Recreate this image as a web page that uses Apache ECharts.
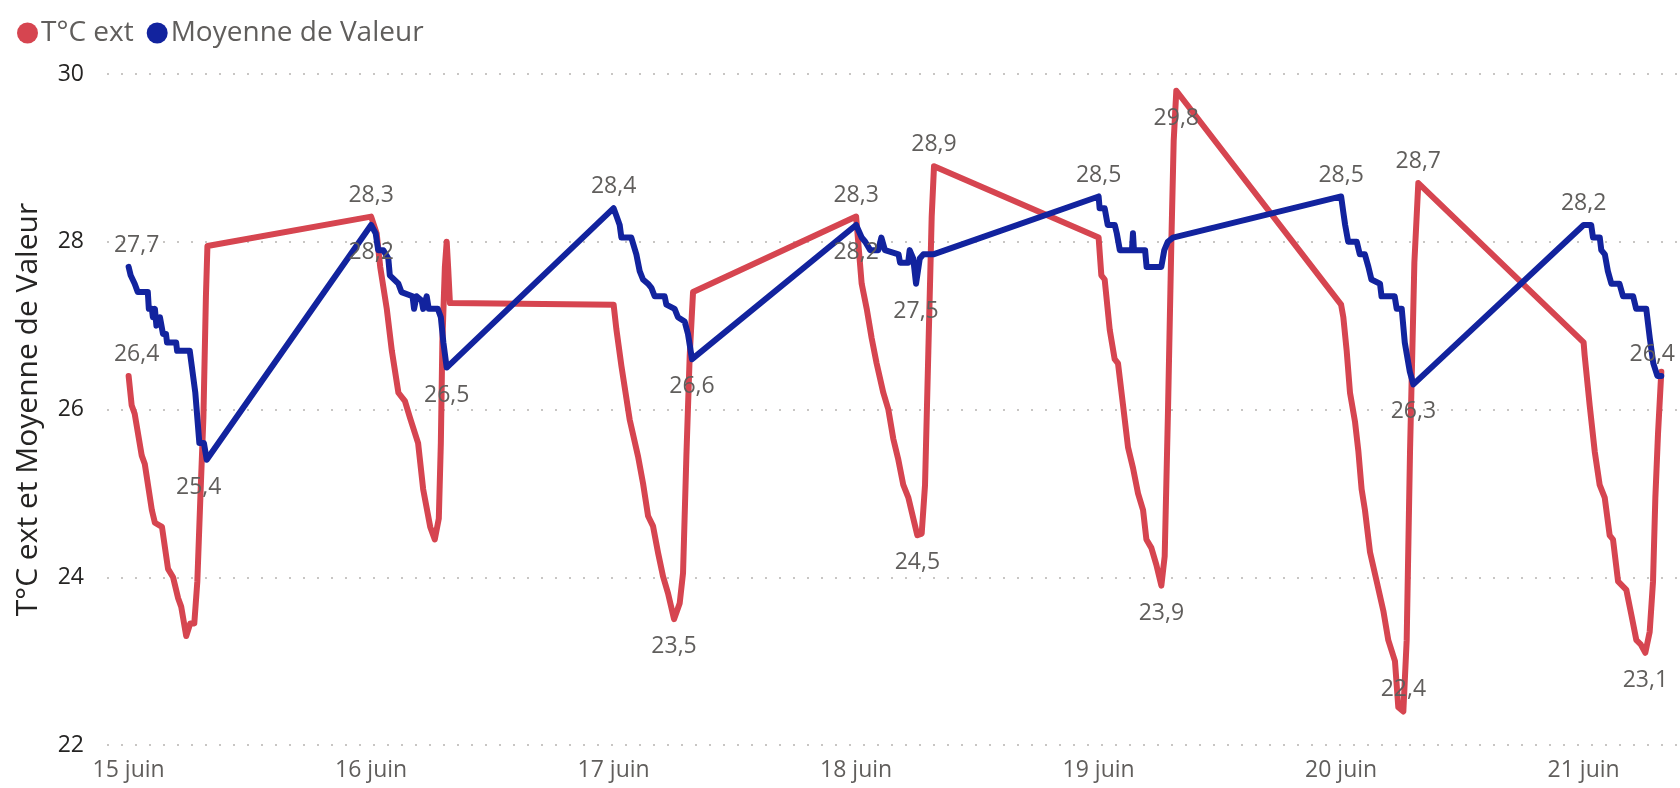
<!DOCTYPE html>
<html>
<head>
<meta charset="utf-8">
<script src="https://cdn.jsdelivr.net/npm/echarts@6/dist/echarts.min.js"></script>
<style>
  html, body { margin: 0; padding: 0; background: #fff; }
  #chart { width: 1680px; height: 788px; }
</style>
</head>
<body>
<div id="chart"></div>
<script>
// jours (juin) affichés sur l'axe
const days = [15, 16, 17, 18, 19, 20, 21];

// T°C ext : [heure de la nuit, valeur]
const red15 = [[0, 26.4], [0.3, 26.05], [0.6, 25.95], [1.3, 25.45], [1.6, 25.35], [2.3, 24.8], [2.6, 24.65], [3.3, 24.6], [3.9, 24.1], [4.4, 24.0], [4.9, 23.75], [5.2, 23.65], [5.7, 23.3], [6.1, 23.45], [6.5, 23.45], [6.8, 23.95], [7.1, 24.95], [7.4, 25.9], [7.65, 27.35], [7.8, 27.95]];
const red16 = [[0, 28.3], [0.55, 28.1], [0.9, 27.7], [1.55, 27.2], [2.05, 26.7], [2.7, 26.2], [3.35, 26.1], [3.85, 25.9], [4.65, 25.6], [5.15, 25.05], [5.85, 24.6], [6.3, 24.45], [6.7, 24.7], [6.9, 25.6], [7.05, 26.8], [7.3, 27.7], [7.48, 28.0], [7.62, 27.7], [7.8, 27.27]];
const red17 = [[0, 27.25], [0.27, 26.96], [0.77, 26.52], [1.59, 25.88], [2.42, 25.44], [2.91, 25.12], [3.41, 24.73], [3.9, 24.61], [4.4, 24.29], [4.89, 24.01], [5.38, 23.81], [5.98, 23.5], [6.54, 23.69], [6.87, 24.05], [7.2, 25.44], [7.53, 26.64], [7.86, 27.4]];
const red18 = [[0, 28.3], [0.55, 27.5], [1.05, 27.2], [1.54, 26.85], [2.03, 26.55], [2.69, 26.2], [3.19, 26.0], [3.68, 25.65], [4.18, 25.4], [4.67, 25.1], [5.17, 24.95], [5.66, 24.7], [6.06, 24.5], [6.49, 24.52], [6.82, 25.1], [7.15, 26.7], [7.48, 28.3], [7.71, 28.9]];
const red19 = [[0, 28.05], [0.27, 27.6], [0.6, 27.55], [1.1, 26.95], [1.59, 26.6], [1.92, 26.55], [2.42, 26.05], [2.91, 25.55], [3.41, 25.3], [3.9, 25.0], [4.4, 24.8], [4.73, 24.45], [5.22, 24.35], [5.71, 24.15], [6.21, 23.9], [6.54, 24.25], [6.87, 26.0], [7.2, 28.0], [7.43, 29.2], [7.69, 29.8]];
const red20 = [[0, 27.25], [0.22, 27.1], [0.55, 26.7], [0.88, 26.2], [1.38, 25.85], [1.71, 25.5], [2.03, 25.05], [2.36, 24.8], [2.86, 24.3], [3.52, 23.95], [4.18, 23.6], [4.67, 23.25], [5.33, 23.0], [5.66, 22.45], [6.16, 22.4], [6.49, 23.25], [6.82, 25.5], [7.25, 27.75], [7.64, 28.7]];
const red21 = [[0, 26.8], [0.1, 26.65], [0.6, 26.05], [1.1, 25.5], [1.59, 25.1], [2.09, 24.95], [2.58, 24.5], [2.91, 24.45], [3.41, 23.95], [4.23, 23.85], [4.73, 23.55], [5.22, 23.25], [5.65, 23.2], [6.11, 23.1], [6.54, 23.35], [6.87, 23.95], [7.1, 24.95], [7.36, 25.7], [7.69, 26.45]];

// Moyenne de Valeur : [heure de la nuit, valeur]
const blue15 = [[0, 27.7], [0.2, 27.6], [0.6, 27.5], [0.9, 27.4], [1.9, 27.4], [2.0, 27.2], [2.3, 27.2], [2.4, 27.1], [2.6, 27.2], [2.75, 27.0], [3.1, 27.1], [3.25, 27.0], [3.4, 26.9], [3.7, 26.9], [3.8, 26.8], [4.7, 26.8], [4.8, 26.7], [6.05, 26.7], [6.6, 26.2], [7.0, 25.6], [7.45, 25.6], [7.73, 25.4]];
const blue16 = [[0, 28.2], [0.45, 28.1], [0.7, 27.9], [1.2, 27.9], [1.7, 27.8], [1.85, 27.6], [2.7, 27.5], [3.0, 27.4], [4.1, 27.35], [4.25, 27.2], [4.5, 27.35], [5.0, 27.3], [5.15, 27.2], [5.5, 27.35], [5.7, 27.2], [6.6, 27.2], [6.9, 27.1], [7.15, 26.8], [7.48, 26.5]];
const blue17 = [[0, 28.4], [0.3, 28.3], [0.6, 28.2], [0.77, 28.05], [1.75, 28.05], [2.25, 27.85], [2.58, 27.65], [2.91, 27.55], [3.4, 27.5], [3.74, 27.45], [4.06, 27.35], [5.05, 27.35], [5.22, 27.25], [6.04, 27.2], [6.37, 27.1], [7.03, 27.05], [7.36, 26.9], [7.76, 26.6]];
const blue18 = [[0, 28.2], [0.55, 28.05], [0.9, 28.0], [1.4, 27.9], [2.2, 27.9], [2.5, 28.05], [2.85, 27.9], [4.2, 27.85], [4.35, 27.75], [5.15, 27.75], [5.3, 27.9], [5.65, 27.8], [5.93, 27.5], [6.3, 27.8], [6.65, 27.85], [7.64, 27.85]];
const blue19 = [[0, 28.54], [0.1, 28.4], [0.6, 28.4], [0.9, 28.2], [1.6, 28.2], [1.8, 28.1], [2.1, 27.9], [3.3, 27.9], [3.4, 28.1], [3.5, 27.9], [4.6, 27.9], [4.75, 27.7], [6.2, 27.7], [6.5, 27.9], [6.85, 28.0], [7.36, 28.05]];
const blue20 = [[0, 28.54], [0.22, 28.35], [0.4, 28.2], [0.7, 28.0], [1.55, 28.0], [1.85, 27.85], [2.35, 27.85], [2.7, 27.7], [3.0, 27.55], [3.85, 27.5], [4.0, 27.35], [5.3, 27.35], [5.5, 27.2], [6.0, 27.2], [6.3, 26.8], [6.8, 26.45], [7.15, 26.3]];
const blue21 = [[0, 28.2], [0.75, 28.2], [0.93, 28.05], [1.6, 28.05], [1.75, 27.9], [2.1, 27.85], [2.4, 27.65], [2.75, 27.5], [3.55, 27.5], [3.9, 27.35], [4.9, 27.35], [5.2, 27.2], [6.2, 27.2], [6.55, 26.85], [6.9, 26.55], [7.3, 26.4], [7.69, 26.4]];

// étiquettes de données : [jour, heure, position, décalage x]
const redLabels = [[15, 0, 'top', 8], [16, 0, 'top'], [17, 5.98, 'bottom'], [18, 0, 'top'], [18, 6.06, 'bottom'], [18, 7.71, 'top'], [19, 6.21, 'bottom'], [19, 7.69, 'bottom'], [20, 6.16, 'top'], [20, 7.64, 'top'], [21, 6.11, 'bottom']];
const blueLabels = [[15, 0, 'top', 8], [15, 7.73, 'bottom', -8], [16, 0, 'bottom'], [16, 7.48, 'bottom'], [17, 0, 'top'], [17, 7.76, 'bottom'], [18, 0, 'bottom'], [18, 5.93, 'bottom'], [19, 0, 'top'], [20, 0, 'top'], [20, 7.15, 'bottom'], [21, 0, 'top'], [21, 7.69, 'top', -9]];

const redNights = [red15, red16, red17, red18, red19, red20, red21];
const blueNights = [blue15, blue16, blue17, blue18, blue19, blue20, blue21];

const HOUR = 3600 * 1000;
const FONT = '"Open Sans", "Noto Sans", sans-serif';

function toTime(day, h) {
  return new Date(2023, 5, day).getTime() + h * HOUR;
}

function build(nights, labels) {
  const out = [];
  nights.forEach((night, i) => {
    const day = days[i];
    night.forEach(([h, v]) => {
      const item = { value: [toTime(day, h), v] };
      const lab = labels.find((l) => l[0] === day && l[1] === h);
      if (lab) {
        item.label = {
          show: true,
          position: lab[2],
          distance: lab[2] === 'top' ? 10 : 16,
          offset: [lab[3] || 0, 0],
        };
      }
      out.push(item);
    });
  });
  return out;
}

const dataLabel = {
  show: false,
  formatter: (p) => p.value[1].toFixed(1).replace('.', ','),
  fontFamily: FONT,
  fontSize: 23,
  color: '#605E5C',
};

const chart = echarts.init(document.getElementById('chart'));
chart.setOption({
  animation: false,
  color: ['#D64550', '#12239E'],
  textStyle: { fontFamily: FONT },
  legend: {
    left: 12,
    top: 14,
    icon: 'circle',
    itemWidth: 21,
    itemHeight: 21,
    itemGap: 13,
    textStyle: { fontSize: 28, color: '#605E5C', fontFamily: FONT, padding: [0, 0, 0, -2] },
    data: ['T°C ext', 'Moyenne de Valeur'],
  },
  grid: { left: 107, right: 0, top: 74, bottom: 43 },
  xAxis: {
    type: 'time',
    min: toTime(15, -2.14),
    max: toTime(21, 9.54),
    minInterval: 24 * HOUR,
    maxInterval: 24 * HOUR,
    axisLine: { show: false },
    axisTick: { show: false },
    splitLine: { show: false },
    axisLabel: {
      fontSize: 23,
      color: '#605E5C',
      margin: 14,
      showMinLabel: false,
      showMaxLabel: false,
      formatter: (v) => new Date(v).getDate() + ' juin',
    },
  },
  yAxis: {
    type: 'value',
    min: 22,
    max: 30,
    interval: 2,
    name: 'T°C ext et Moyenne de Valeur',
    nameLocation: 'middle',
    nameGap: 64,
    nameTextStyle: { fontSize: 30, color: '#252423', fontFamily: FONT },
    axisLine: { show: false },
    axisTick: { show: false },
    axisLabel: { fontSize: 23, color: '#252423', margin: 23 },
    splitLine: { lineStyle: { color: '#C8C6C4', width: 2, type: [2, 12] } },
  },
  series: [
    {
      name: 'T°C ext',
      type: 'line',
      data: build(redNights, redLabels),
      symbol: 'circle',
      symbolSize: 0,
      showAllSymbol: true,
      lineStyle: { width: 6, join: 'round', cap: 'round' },
      label: dataLabel,
      silent: true,
    },
    {
      name: 'Moyenne de Valeur',
      type: 'line',
      data: build(blueNights, blueLabels),
      symbol: 'circle',
      symbolSize: 0,
      showAllSymbol: true,
      lineStyle: { width: 6, join: 'round', cap: 'round' },
      label: dataLabel,
      silent: true,
    },
  ],
});
</script>
</body>
</html>
